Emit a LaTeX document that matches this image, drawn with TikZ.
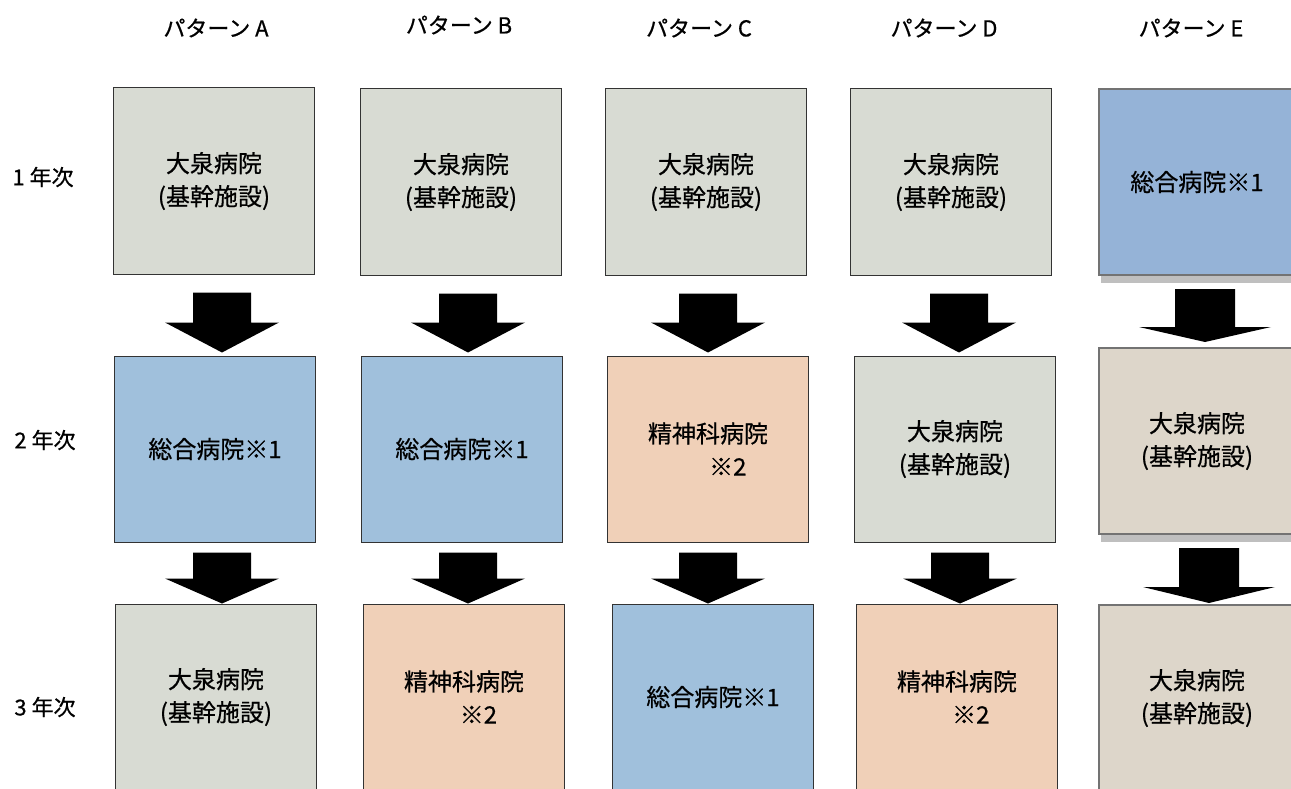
\documentclass[tikz,border=0pt]{standalone}
\usepackage{fontspec}
\setmainfont{Noto Sans CJK JP}[FakeBold=0.6]
\usetikzlibrary{calc,shadows}

\definecolor{kikan}{RGB}{216,219,211}
\definecolor{sogo}{RGB}{160,192,220}
\definecolor{seishin}{RGB}{240,208,184}
\definecolor{sogoE}{RGB}{149,179,215}
\definecolor{kikanE}{RGB}{221,214,202}

\newcommand{\shaftw}{29}
\newcommand{\headw}{57}
% from, to, x offset, gap under from, gap over to, head length
\newcommand{\bigarrow}[6]{%
  \fill [black] ($(#2.north |- #1.south)+(#3-\shaftw,-#4)$) -- ($(#2.north |- #1.south)+(#3+\shaftw,-#4)$)
    -- ($(#2.north)+(#3+\shaftw,#5+#6)$) -- ($(#2.north)+(#3+\headw,#5+#6)$)
    -- ($(#2.north)+(#3,#5)$)
    -- ($(#2.north)+(#3-\headw,#5+#6)$) -- ($(#2.north)+(#3-\shaftw,#5+#6)$) -- cycle;}

\begin{document}
\begin{tikzpicture}[x=1pt,y=1pt,
  box/.style={draw=black!80, line width=1pt, minimum width=201pt, minimum height=186pt,
    inner sep=0pt, align=center, font=\fontsize{24}{33}\selectfont},
  boxE/.style={box, minimum width=196pt, draw=black!55, line width=2pt,
    drop shadow={shadow xshift=2pt, shadow yshift=-8pt, fill=black!25, opacity=1}},
  head/.style={font=\fontsize{22}{26}\selectfont, inner sep=0pt}]
\useasboundingbox (0,0) rectangle (1291,-789);
\clip (0,0) rectangle (1291,-789);
\node [head] (hA) at (216,-28) {パターン A};
\node [head] (hB) at (459,-25) {パターン B};
\node [head] (hC) at (699,-28) {パターン C};
\node [head] (hD) at (944,-28) {パターン D};
\node [head] (hE) at (1191,-28) {パターン E};
\node [head] (y1) at (43,-177) {1 年次};
\node [head] (y2) at (45,-440) {2 年次};
\node [head] (y3) at (45,-707) {3 年次};
\node [box, fill=kikan] (a1) at (214,-181) {大泉病院\\(基幹施設)};
\node [box, fill=kikan] (b1) at (461,-182) {大泉病院\\(基幹施設)};
\node [box, fill=kikan] (c1) at (706,-182) {大泉病院\\(基幹施設)};
\node [box, fill=kikan] (d1) at (951,-182) {大泉病院\\(基幹施設)};
\node [boxE, fill=sogoE] (e1) at (1197,-182) {総合病院※1};
\node [box, fill=sogo] (a2) at (215,-449) {総合病院※1};
\node [box, fill=sogo] (b2) at (462,-449) {総合病院※1};
\node [box, fill=seishin] (c2) at (708,-449) {精神科病院\\\hspace*{1.65em}※2};
\node [box, fill=kikan] (d2) at (955,-449) {大泉病院\\(基幹施設)};
\node [boxE, fill=kikanE] (e2) at (1197,-441) {大泉病院\\(基幹施設)};
\node [box, fill=kikan] (a3) at (216,-697) {大泉病院\\(基幹施設)};
\node [box, fill=seishin] (b3) at (464,-697) {精神科病院\\\hspace*{1.2em}※2};
\node [box, fill=sogo] (c3) at (713,-697) {総合病院※1};
\node [box, fill=seishin] (d3) at (957,-697) {精神科病院\\\hspace*{1.15em}※2};
\node [boxE, fill=kikanE] (e3) at (1197,-698) {大泉病院\\(基幹施設)};
\bigarrow{a1}{a2}{7}{18}{3}{30}
\bigarrow{b1}{b2}{6}{18}{3}{30}
\bigarrow{c1}{c2}{0}{18}{3}{30}
\bigarrow{d1}{d2}{4}{18}{3}{30}
\bigarrow{a2}{a3}{6}{10}{0}{25}
\bigarrow{b2}{b3}{4}{10}{0}{25}
\bigarrow{c2}{c3}{-5}{10}{0}{25}
\bigarrow{d2}{d3}{3}{10}{0}{25}
\renewcommand{\shaftw}{30}
\renewcommand{\headw}{66}
\bigarrow{e1}{e2}{8}{13}{5}{15}
\bigarrow{e2}{e3}{12}{13}{1}{16}
\end{tikzpicture}
\end{document}
